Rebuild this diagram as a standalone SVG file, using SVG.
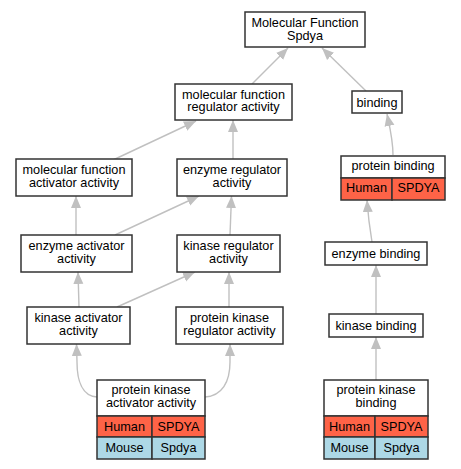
<svg xmlns="http://www.w3.org/2000/svg" width="461" height="469" viewBox="0 0 461 469">
<style>
.box{fill:#fff;stroke:#333;stroke-width:1.5}
.hu{fill:#fe6347;stroke:#333;stroke-width:1.5}
.mo{fill:#add8e6;stroke:#333;stroke-width:1.5}
text{font-family:"Liberation Sans",Arial,sans-serif;font-size:12.7px;fill:#000;text-anchor:middle}
.e{fill:none;stroke:#c0c0c0;stroke-width:1.4;marker-end:url(#ah)}
</style>
<defs>
<marker id="ah" markerUnits="userSpaceOnUse" markerWidth="13" markerHeight="11" refX="12" refY="5" orient="auto" viewBox="0 0 13 10">
<path d="M0,0 L12,5 L0,10 z" fill="#c0c0c0"/>
</marker>
</defs>
<g id="edges">
<path class="e" d="M252,84 L288,48"/>
<path class="e" d="M366,91 L322,48"/>
<path class="e" d="M113,160 L196,121"/>
<path class="e" d="M233,159 L233,120"/>
<path class="e" d="M393,155 C393,140 390,128 387,114"/>
<path class="e" d="M76,235 L76,196"/>
<path class="e" d="M115,235 L199,196"/>
<path class="e" d="M230,235 L231.5,196"/>
<path class="e" d="M372,242 C370,230 368,215 367,200"/>
<path class="e" d="M79,307 L78,272"/>
<path class="e" d="M117,307 L195,272"/>
<path class="e" d="M229,307 L229,272"/>
<path class="e" d="M376,314 L376,265"/>
<path class="e" d="M97,397 C82,396 77,380 77,362 L76.5,344"/>
<path class="e" d="M205,397 C222,396 230,382 230,362 L230,344"/>
<path class="e" d="M376,380 L376,337"/>
</g>
<g id="mf">
<rect class="box" x="245" y="12" width="120" height="35"/>
<text x="305" y="26.5">Molecular Function</text>
<text x="305" y="40">Spdya</text>
</g>
<g id="mfra">
<rect class="box" x="175" y="84" width="117" height="36"/>
<text x="233.5" y="98.5">molecular function</text>
<text x="233.5" y="111">regulator activity</text>
</g>
<g id="binding">
<rect class="box" x="352" y="91" width="50" height="22"/>
<text x="377" y="106.5">binding</text>
</g>
<g id="mfaa">
<rect class="box" x="16" y="159" width="116" height="37"/>
<text x="74" y="174">molecular function</text>
<text x="74" y="187">activator activity</text>
</g>
<g id="era">
<rect class="box" x="177" y="159" width="110" height="37"/>
<text x="232" y="174">enzyme regulator</text>
<text x="232" y="187">activity</text>
</g>
<g id="pb">
<rect class="box" x="341" y="156" width="104" height="22"/>
<rect class="hu" x="341" y="178" width="51" height="22"/>
<rect class="hu" x="392" y="178" width="53" height="22"/>
<text x="393" y="170">protein binding</text>
<text x="366.5" y="192">Human</text>
<text x="418.5" y="192">SPDYA</text>
</g>
<g id="eaa">
<rect class="box" x="21" y="235" width="111" height="37"/>
<text x="76.5" y="250">enzyme activator</text>
<text x="76.5" y="263">activity</text>
</g>
<g id="kra">
<rect class="box" x="177" y="235" width="103" height="37"/>
<text x="228.5" y="250">kinase regulator</text>
<text x="228.5" y="263">activity</text>
</g>
<g id="eb">
<rect class="box" x="325" y="242" width="102" height="23"/>
<text x="376" y="258">enzyme binding</text>
</g>
<g id="kaa">
<rect class="box" x="27" y="307" width="103" height="37"/>
<text x="78.5" y="322">kinase activator</text>
<text x="78.5" y="335">activity</text>
</g>
<g id="pkra">
<rect class="box" x="176" y="307" width="107" height="37"/>
<text x="229.5" y="322">protein kinase</text>
<text x="229.5" y="335">regulator activity</text>
</g>
<g id="kb">
<rect class="box" x="329" y="314" width="94" height="23"/>
<text x="376" y="330">kinase binding</text>
</g>
<g id="pkaa">
<rect class="box" x="97" y="380" width="108" height="36"/>
<rect class="hu" x="97" y="416" width="55" height="21"/>
<rect class="hu" x="152" y="416" width="53" height="21"/>
<rect class="mo" x="97" y="437" width="55" height="22"/>
<rect class="mo" x="152" y="437" width="53" height="22"/>
<text x="151" y="393.5">protein kinase</text>
<text x="151" y="406.5">activator activity</text>
<text x="124.5" y="430.5">Human</text>
<text x="178.5" y="430.5">SPDYA</text>
<text x="124.5" y="452">Mouse</text>
<text x="178.5" y="452">Spdya</text>
</g>
<g id="pkb">
<rect class="box" x="324" y="380" width="104" height="36"/>
<rect class="hu" x="324" y="416" width="51" height="21"/>
<rect class="hu" x="375" y="416" width="53" height="21"/>
<rect class="mo" x="324" y="437" width="51" height="22"/>
<rect class="mo" x="375" y="437" width="53" height="22"/>
<text x="376" y="393.5">protein kinase</text>
<text x="376" y="406.5">binding</text>
<text x="349.5" y="430.5">Human</text>
<text x="401.5" y="430.5">SPDYA</text>
<text x="349.5" y="452">Mouse</text>
<text x="401.5" y="452">Spdya</text>
</g>
</svg>
